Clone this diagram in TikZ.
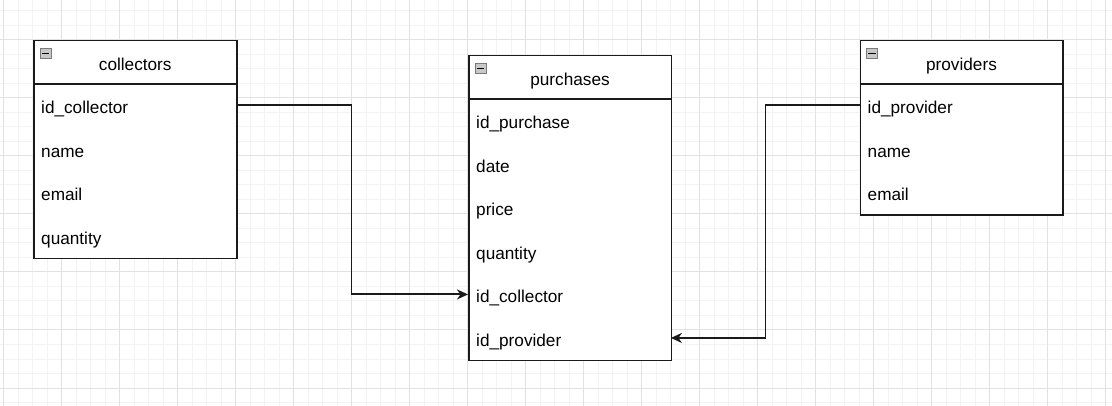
\documentclass[tikz,border=0pt]{standalone}
\usepackage{fontspec}
\setmainfont{Liberation Sans}
\usetikzlibrary{arrows.meta}
\definecolor{gridminor}{HTML}{F3F3F3}
\definecolor{gridmajor}{HTML}{E2E2E2}
\definecolor{linecol}{HTML}{1A1A1A}
\definecolor{iconfill}{HTML}{C8C8C8}
\definecolor{iconborder}{HTML}{7A7A7A}
\tikzset{
  tablebox/.style={draw=linecol, line width=1.5pt, fill=white, rectangle, inner sep=0pt, anchor=north west},
  headcell/.style={draw=linecol, line width=1.5pt, rectangle, inner sep=0pt, minimum height=43.5pt, anchor=north west, text height=17.5pt, text depth=2.3pt, font=\fontsize{17.2pt}{20pt}\selectfont},
  rowcell/.style={rectangle, inner xsep=8pt, inner ysep=0pt, minimum height=43.5pt, anchor=north west, align=left, text height=18.5pt, text depth=2pt, font=\fontsize{17.2pt}{20pt}\selectfont},
  minusicon/.style={draw=iconborder, line width=0.8pt, fill=iconfill, rectangle, inner sep=0pt, minimum width=11pt, minimum height=10.5pt, anchor=north west},
  link/.style={draw=linecol, line width=1.9pt},
  linkarrow/.style={link, -{Stealth[length=11pt, width=10pt, inset=3.5pt]}}
}
\begin{document}
\begin{tikzpicture}[x=1pt, y=-1pt]
\useasboundingbox (0,0) rectangle (1112,406);
\fill[white] (0,0) rectangle (1112,406);
% grid
\foreach \k in {0,...,76} \draw[gridminor, line width=1pt] ({3.5+14.5*\k},0) -- ({3.5+14.5*\k},406);
\foreach \k in {0,...,27} \draw[gridminor, line width=1pt] (0,{11+14.5*\k}) -- (1112,{11+14.5*\k});
\foreach \k in {0,4,...,76} \draw[gridmajor, line width=1pt] ({3.5+14.5*\k},0) -- ({3.5+14.5*\k},406);
\foreach \k in {-2,2,6,...,26} \draw[gridmajor, line width=1pt] (0,{11+14.5*\k}) -- (1112,{11+14.5*\k});

% collectors
\node[tablebox, minimum width=203pt, minimum height=218pt] (collectors) at (33,40) {};
\node[headcell, minimum width=203pt] (collectorsHead) at (33,40) {collectors};
\node[minusicon] (collectorsIcon) at (39.5,48) {};
\draw[black, line width=1.6pt] ([xshift=2pt]collectorsIcon.west) -- ([xshift=-2pt]collectorsIcon.east);
\node[rowcell, text width=187pt] (cId) at (33,83.5) {id\_collector};
\node[rowcell, text width=187pt] (cName) at (33,127) {name};
\node[rowcell, text width=187pt] (cEmail) at (33,170.5) {email};
\node[rowcell, text width=187pt] (cQty) at (33,214) {quantity};

% purchases
\node[tablebox, minimum width=202.5pt, minimum height=304.5pt] (purchases) at (468,55) {};
\node[headcell, minimum width=202.5pt] (purchasesHead) at (468,55) {purchases};
\node[minusicon] (purchasesIcon) at (474.5,63) {};
\draw[black, line width=1.6pt] ([xshift=2pt]purchasesIcon.west) -- ([xshift=-2pt]purchasesIcon.east);
\node[rowcell, text width=186.5pt] (pId) at (468,98.5) {id\_purchase};
\node[rowcell, text width=186.5pt] (pDate) at (468,142) {date};
\node[rowcell, text width=186.5pt] (pPrice) at (468,185.5) {price};
\node[rowcell, text width=186.5pt] (pQty) at (468,229) {quantity};
\node[rowcell, text width=186.5pt] (pColl) at (468,272.5) {id\_collector};
\node[rowcell, text width=186.5pt] (pProv) at (468,316) {id\_provider};

% providers
\node[tablebox, minimum width=202.5pt, minimum height=174.5pt] (providers) at (859.5,40) {};
\node[headcell, minimum width=202.5pt] (providersHead) at (859.5,40) {providers};
\node[minusicon] (providersIcon) at (866,48) {};
\draw[black, line width=1.6pt] ([xshift=2pt]providersIcon.west) -- ([xshift=-2pt]providersIcon.east);
\node[rowcell, text width=186.5pt] (vId) at (859.5,83.5) {id\_provider};
\node[rowcell, text width=186.5pt] (vName) at (859.5,127) {name};
\node[rowcell, text width=186.5pt] (vEmail) at (859.5,170.5) {email};

% connectors
\draw[linkarrow] (cId.east) -- (351.5,0 |- cId.east) -- (351.5,0 |- pColl.west) -- (pColl.west);
\draw[linkarrow] (vId.west) -- (765.5,0 |- vId.west) -- (765.5,0 |- pProv.east) -- (pProv.east);
\end{tikzpicture}
\end{document}
